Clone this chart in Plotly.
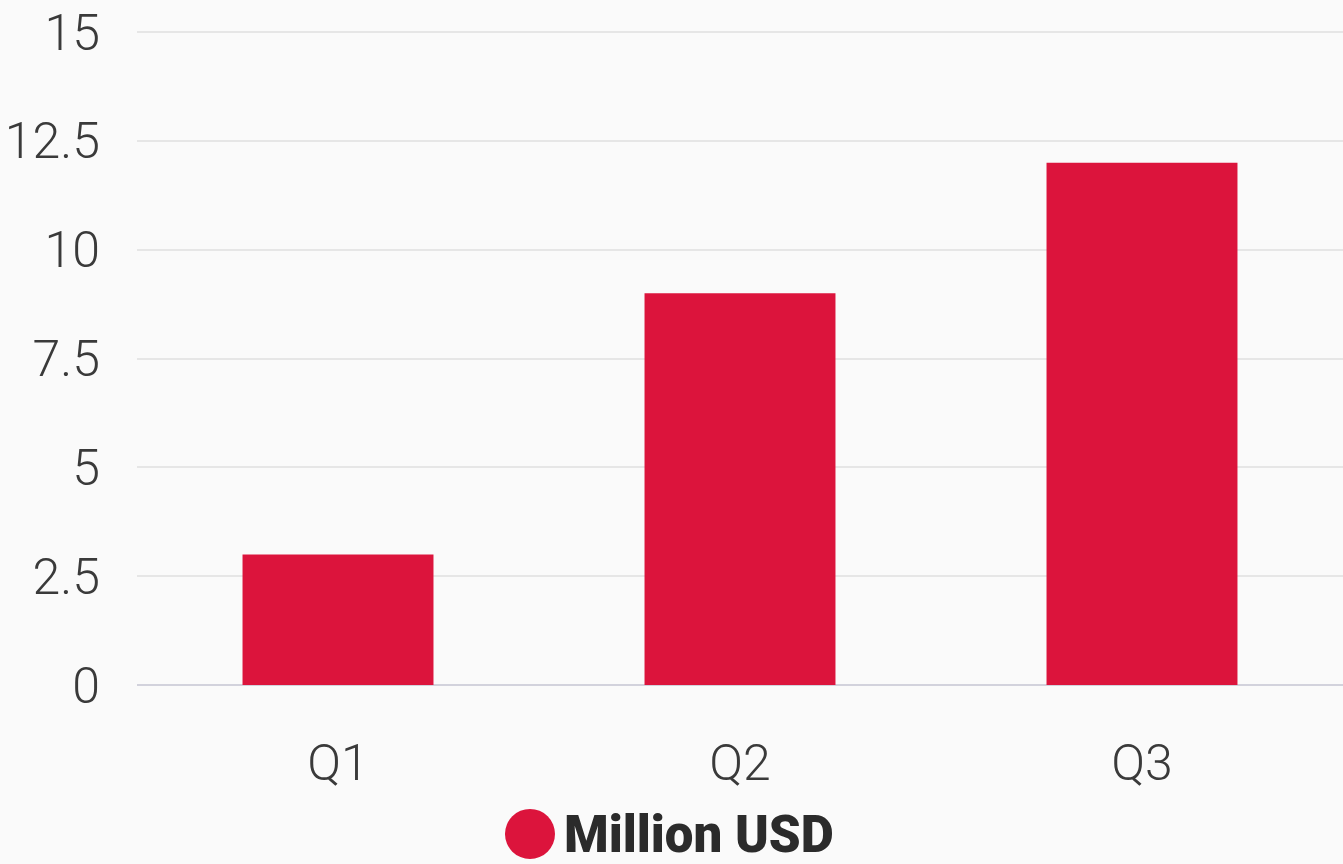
import plotly.graph_objects as go

categories = ["Q1", "Q2", "Q3"]
values = [3, 9, 12]
series_name = "Million USD"
y_ticks = [0, 2.5, 5, 7.5, 10, 12.5, 15]
y_tick_labels = ["0", "2.5", "5", "7.5", "10", "12.5", "15"]

BAR = "#DC143C"
BG = "#FAFAFA"

W, H = 1343, 864
YMAX = 15.05
L, R, B = 137, 0, 179
per_unit = 653 / 15.0
ph = per_unit * YMAX
T = H - B - ph
pw = W - L - R

fig = go.Figure()
fig.add_trace(go.Bar(x=categories, y=values, name=series_name,
                     marker=dict(color=BAR, line=dict(width=0)),
                     showlegend=False))

def px_to_paper_x(px):
    return (px - L) / pw

def px_to_paper_y(py):
    return (H - B - py) / ph

# legend (manual, to allow a large circle marker)
cx, cy = px_to_paper_x(530), px_to_paper_y(834)
fig.add_shape(type="circle", xref="paper", yref="paper",
              xsizemode="pixel", ysizemode="pixel",
              xanchor=cx, yanchor=cy, x0=-25, x1=25, y0=-25, y1=25,
              fillcolor=BAR, line=dict(width=0))
fig.add_annotation(xref="paper", yref="paper",
                   x=px_to_paper_x(562), y=px_to_paper_y(835),
                   xanchor="left", yanchor="middle", showarrow=False,
                   text=series_name,
                   font=dict(family="Roboto", size=51, color="#2b2b2b", weight=900))

fig.update_layout(
    width=W, height=H,
    margin=dict(l=L, r=R, t=T, b=B, pad=0),
    paper_bgcolor=BG, plot_bgcolor=BG,
    bargap=0.525,
    font=dict(family="Roboto", color="#333333"),
    xaxis=dict(showgrid=False, showline=False, zeroline=False,
               ticks="", ticklabelstandoff=44,
               tickfont=dict(family="Roboto", size=50, color="#3a3a3a", weight=300)),
    yaxis=dict(range=[0, YMAX], tickvals=y_ticks, ticktext=y_tick_labels,
               showgrid=True, gridcolor="#E6E6E6", gridwidth=2,
               zeroline=True, zerolinecolor="#D2D2DC", zerolinewidth=2,
               showline=False, ticks="", ticklabelstandoff=36,
               tickfont=dict(family="Roboto", size=50, color="#3a3a3a", weight=300)),
)

fig.write_html("out.html", config={"displayModeBar": False},
               post_script="document.body.style.margin='0px';document.body.style.overflow='hidden';")
